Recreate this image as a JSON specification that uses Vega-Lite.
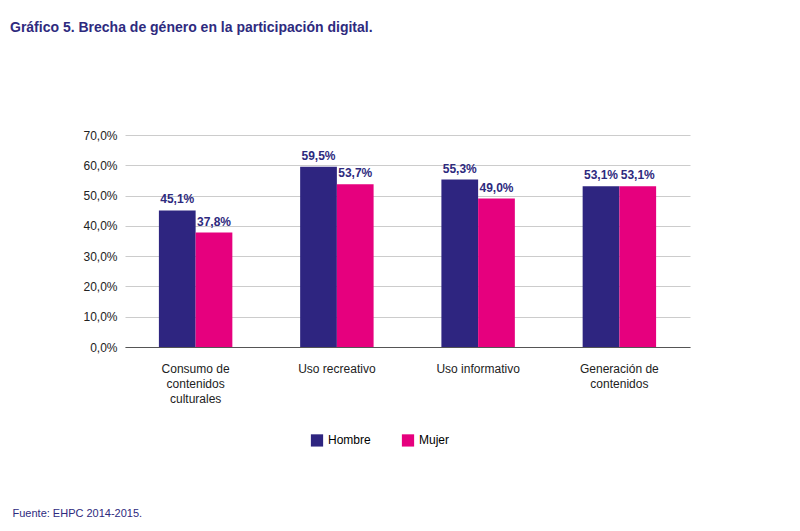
{
  "$schema": "https://vega.github.io/schema/vega-lite/v6.json",
  "width": 565,
  "height": 212,
  "autosize": {"type": "none"},
  "padding": {"left": 125, "top": 135, "right": 110, "bottom": 184},
  "background": "white",
  "config": {"view": {"stroke": null}, "font": "Liberation Sans"},
  "title": {"text": "Gráfico 5.    Brecha de género en la participación digital.", "anchor": "start", "frame": "group", "dx": -115, "offset": 94, "fontSize": 14, "fontWeight": "bold", "color": "#2e2a7e", "font": "Liberation Sans"},
  "data": {"values": [
    {"cat": "Consumo de|contenidos|culturales", "sexo": "Hombre", "v": 45.1},
    {"cat": "Consumo de|contenidos|culturales", "sexo": "Mujer", "v": 37.8},
    {"cat": "Uso recreativo", "sexo": "Hombre", "v": 59.5},
    {"cat": "Uso recreativo", "sexo": "Mujer", "v": 53.7},
    {"cat": "Uso informativo", "sexo": "Hombre", "v": 55.3},
    {"cat": "Uso informativo", "sexo": "Mujer", "v": 49.0},
    {"cat": "Generación de|contenidos", "sexo": "Hombre", "v": 53.1},
    {"cat": "Generación de|contenidos", "sexo": "Mujer", "v": 53.1}
  ]},
  "encoding": {
    "x": {"field": "cat", "type": "nominal", "sort": null,
      "scale": {"paddingInner": 0.48, "paddingOuter": 0.24},
      "axis": {"labelAngle": 0, "labelExpr": "split(datum.label,'|')", "labelFontSize": 12, "labelColor": "#222", "ticks": false, "domain": true, "domainColor": "#555", "labelPadding": 16, "labelLineHeight": 15,
        "title": "Fuente: EHPC 2014-2015.", "titleAnchor": "start", "titleX": -113, "titleY": 160, "titleAlign": "left", "titleFontSize": 11, "titleFontWeight": "normal", "titleColor": "#2e2a7e"}},
    "xOffset": {"field": "sexo", "type": "nominal"},
    "y": {"field": "v", "type": "quantitative", "scale": {"domain": [0, 70]},
      "axis": {"values": [0,10,20,30,40,50,60,70], "labelExpr": "replace(format(datum.value,'.1f'),'.',',')+'%'", "title": null, "domain": false, "ticks": false, "labelFontSize": 12, "labelColor": "#222", "gridColor": "#ccc", "labelPadding": 8}}
  },
  "layer": [
    {"mark": {"type": "bar"},
     "encoding": {"color": {"field": "sexo", "type": "nominal", "scale": {"range": ["#2e2580", "#e6007e"]},
       "legend": {"title": null, "orient": "none", "legendX": 185, "legendY": 298, "direction": "horizontal", "symbolType": "square", "symbolSize": 150, "labelFontSize": 12, "columnPadding": 30}}}},
    {"mark": {"type": "text", "dy": -11, "fontWeight": "bold", "fontSize": 12, "color": "#2e2a7e", "text": {"expr": "replace(format(datum.v,'.1f'),'.',',')+'%'"}},
     "encoding": {"detail": {"field": "sexo"}}}
  ]
}
